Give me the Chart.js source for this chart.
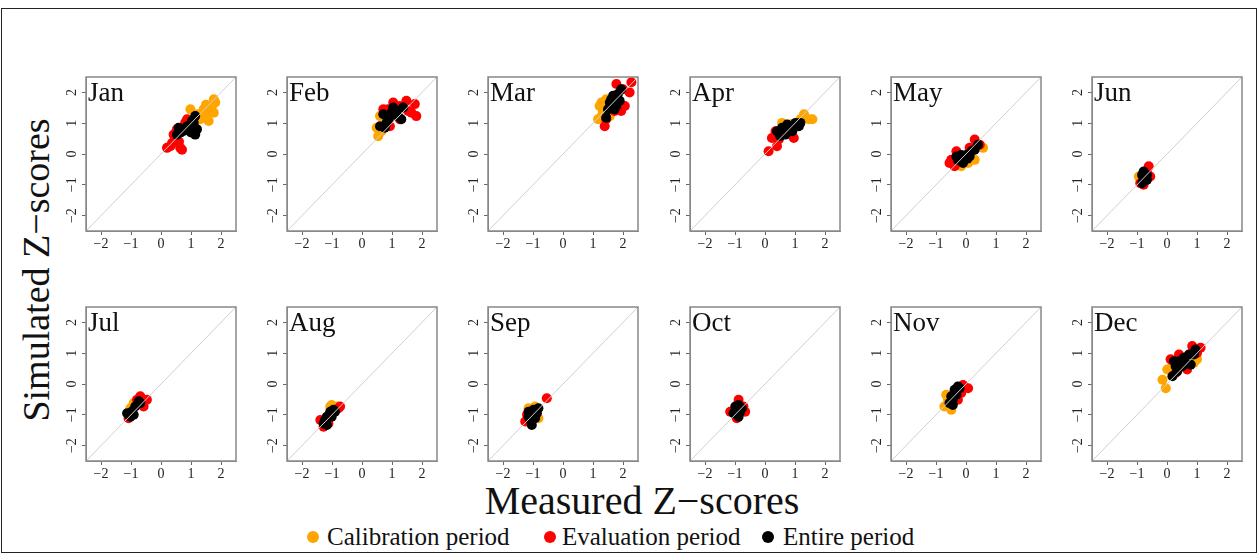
<!DOCTYPE html>
<html>
<head>
<meta charset="utf-8">
<script src="https://cdn.jsdelivr.net/npm/chart.js@4.4.1/dist/chart.umd.min.js"></script>
<style>
  body { margin: 0; background: #fff; width: 1259px; height: 555px; overflow: hidden; position: relative; font-family: "Liberation Serif", serif; }
  #frame { position: absolute; left: 1px; top: 8px; width: 1256px; height: 545px; border: 1.5px solid #222; box-sizing: border-box; }
  canvas { position: absolute; }
  .ytitle { position: absolute; left: 36px; top: 270px; transform: translate(-50%, -50%) rotate(-90deg); font-size: 38px; white-space: nowrap; color: #111; }
  .xtitle { position: absolute; left: 642px; top: 500px; transform: translate(-50%, -50%); font-size: 40px; white-space: nowrap; color: #111; }
  .leg { position: absolute; top: 537px; transform: translateY(-50%); font-size: 25px; white-space: nowrap; color: #111; }
  .dot { position: absolute; width: 12px; height: 12px; border-radius: 50%; top: 537px; transform: translate(-50%, -50%); }
</style>
</head>
<body>
<div id="frame"></div>
<div class="ytitle">Simulated Z−scores</div>
<div class="xtitle">Measured Z−scores</div>
<span class="dot" style="left:313px;background:#FFA500"></span><div class="leg" style="left:327px">Calibration period</div>
<span class="dot" style="left:550px;background:#FF0000"></span><div class="leg" style="left:562px">Evaluation period</div>
<span class="dot" style="left:768px;background:#000"></span><div class="leg" style="left:783px">Entire period</div>
<script>
const months = ['Jan', 'Feb', 'Mar', 'Apr', 'May', 'Jun', 'Jul', 'Aug', 'Sep', 'Oct', 'Nov', 'Dec'];
const tickValues = [-2, -1, 0, 1, 2];
const axisRange = [-2.5, 2.5];

// [measured, simulated] pairs per month
const calibration = [
  [[0.98,1.45],[1.7,1.56],[1.76,1.78],[1.53,1.23],[1.59,1.07],[1.31,1.13],[1.42,1.45],[1.76,1.34],[1.2,1.29],[1.81,1.67],[1.6,1.4],[1.5,1.6]],
  [[0.54,0.58],[0.49,0.85],[0.6,1.23],[0.82,1.29],[0.65,0.74]],
  [[1.17,1.13],[1.28,1.67],[1.33,1.4],[1.44,1.78],[1.5,1.51],[1.22,1.56],[1.56,1.23],[1.39,1.18],[1.3,1.25]],
  [[0.57,1.01],[1.3,1.29],[1.46,1.13],[1.58,1.13],[1.18,1.13],[0.85,0.96]],
  [[0.57,0.2],[-0.16,-0.4],[0.29,-0.19],[0.07,-0.29]],
  [[-0.94,-0.73],[-0.89,-0.84]],
  [[-1.02,-0.79],[-0.91,-0.62]],
  [[-1.06,-0.73],[-1.01,-0.68],[-0.84,-0.73]],
  [[-1.15,-0.79],[-0.93,-0.73],[-0.82,-1.11],[-1.2,-1.22]],
  [[-0.99,-0.84],[-0.9,-0.95]],
  [[-0.72,-0.73],[-0.49,-0.84],[-0.6,-0.51],[-0.66,-0.35]],
  [[-0.15,0.14],[-0.04,-0.14],[0.01,0.47],[0.18,0.58],[1.0,0.8],[0.9,0.69]]
];
const evaluation = [
  [[0.2,0.2],[0.37,0.36],[0.64,0.2],[0.7,0.14],[0.42,0.63],[0.53,0.8],[0.81,1.02],[0.48,0.52],[0.31,0.25],[0.87,1.13],[0.6,0.4]],
  [[0.71,1.45],[0.87,1.45],[1.26,1.56],[1.48,1.73],[1.76,1.62],[1.81,1.23],[1.54,1.4],[0.93,0.9],[1.26,1.13],[1.04,1.67],[1.65,1.34]],
  [[1.39,0.9],[1.44,1.13],[1.78,2.27],[2.22,2.0],[2.28,2.33],[2.06,1.56],[1.94,1.4],[1.72,1.4],[2.0,2.1]],
  [[0.12,0.09],[0.23,0.52],[0.4,0.25],[0.46,0.47],[0.96,0.52],[0.74,0.8],[0.35,0.74]],
  [[-0.55,-0.29],[-0.38,-0.4],[-0.32,0.09],[-0.16,-0.24],[0.29,0.47],[0.12,0.2],[0.46,0.3],[-0.49,-0.19]],
  [[-0.61,-0.4],[-0.56,-0.73],[-0.78,-1.0],[-0.89,-0.95],[-0.67,-0.57]],
  [[-0.69,-0.4],[-0.47,-0.51],[-0.58,-0.73],[-1.08,-1.11],[-0.8,-0.51]],
  [[-1.39,-1.17],[-1.28,-1.39],[-0.78,-0.79],[-0.73,-0.73],[-1.12,-1.28]],
  [[-0.54,-0.46],[-1.2,-1.0],[-1.26,-1.22]],
  [[-0.88,-0.51],[-1.16,-0.9],[-0.66,-0.9],[-0.94,-1.11],[-0.72,-0.73]],
  [[-0.1,-0.03],[0.07,-0.14],[-0.16,-0.29],[-0.27,-0.51]],
  [[0.12,0.8],[0.4,0.96],[0.84,1.23],[1.12,1.18],[1.0,1.01],[0.29,0.36],[0.67,0.47]]
];
const entire = [
  [[0.59,0.85],[0.53,0.63],[0.87,0.9],[1.09,0.85],[1.14,0.63],[1.14,1.23],[1.03,1.07],[1.2,0.8],[0.92,0.8],[0.64,0.69],[1.09,1.01],[0.75,0.75],[1.0,0.7]],
  [[0.71,1.29],[0.82,1.01],[0.98,1.34],[1.04,1.51],[1.2,1.23],[1.31,1.13],[1.37,1.51],[0.76,0.85],[1.15,1.4],[0.6,0.9],[0.9,1.15],[1.1,1.3]],
  [[1.44,1.18],[1.56,1.67],[1.67,1.89],[1.78,1.56],[1.89,1.73],[1.94,2.1],[1.72,1.45],[1.61,1.78],[1.83,1.95],[1.5,1.45],[1.7,1.7]],
  [[0.4,0.74],[0.57,0.85],[0.68,0.63],[0.85,0.9],[1.02,1.01],[1.13,0.9],[0.51,0.58],[0.91,0.74],[0.74,0.96],[1.18,1.01],[0.6,0.7],[0.8,0.8]],
  [[-0.27,-0.19],[-0.16,-0.03],[0.01,-0.03],[0.12,-0.08],[0.29,0.14],[0.4,0.3],[-0.1,-0.29],[-0.32,-0.08],[0.18,0.09],[0.05,-0.15]],
  [[-0.83,-0.68],[-0.78,-0.84],[-0.72,-0.73],[-0.67,-0.68],[-0.83,-0.95],[-0.67,-0.84],[-0.78,-0.57]],
  [[-1.08,-1.0],[-0.97,-0.89],[-0.86,-0.73],[-0.74,-0.56],[-1.02,-1.06],[-0.69,-0.62],[-0.91,-1.0],[-1.13,-0.95]],
  [[-1.28,-1.28],[-1.17,-1.06],[-1.06,-0.9],[-0.95,-0.84],[-1.17,-1.33],[-1.01,-1.06],[-0.9,-0.9],[-1.23,-1.17]],
  [[-1.15,-0.9],[-1.09,-1.17],[-0.98,-0.84],[-0.87,-0.95],[-1.04,-1.33],[-0.93,-1.11],[-0.82,-0.79],[-1.15,-1.06]],
  [[-0.99,-0.73],[-0.88,-0.68],[-0.83,-0.9],[-1.05,-0.95],[-0.88,-1.06],[-0.77,-0.79],[-0.94,-0.84]],
  [[-0.44,-0.51],[-0.38,-0.19],[-0.27,-0.08],[-0.55,-0.62],[-0.32,-0.35],[-0.49,-0.4],[-0.21,-0.14],[-0.44,-0.68]],
  [[0.18,0.25],[0.29,0.58],[0.4,0.74],[0.56,0.85],[0.73,0.96],[0.9,0.96],[0.95,1.12],[0.23,0.74],[0.51,0.58],[0.79,0.63],[0.34,0.41],[0.6,0.7]]
];

const fmt = v => (v < 0 ? '\u2212' + Math.abs(v) : String(v));
const toXY = arr => arr.map(p => ({ x: p[0], y: p[1] }));

// panel box + month label + rotated y tick labels
const panelDecor = {
  id: 'panelDecor',
  afterDraw(chart, args, opts) {
    const { ctx, chartArea: a, scales } = chart;
    ctx.save();
    ctx.strokeStyle = '#888';
    ctx.lineWidth = 1.5;
    ctx.strokeRect(a.left, a.top, a.right - a.left, a.bottom - a.top);
    ctx.fillStyle = '#222';
    ctx.font = '14px "Liberation Serif"';
    ctx.textAlign = 'center';
    ctx.textBaseline = 'middle';
    tickValues.forEach(v => {
      const y = scales.y.getPixelForValue(v);
      ctx.save();
      ctx.translate(a.left - 14, y);
      ctx.rotate(-Math.PI / 2);
      ctx.fillText(fmt(v), 0, 0);
      ctx.restore();
    });
    ctx.fillStyle = '#111';
    ctx.font = '27px "Liberation Serif"';
    ctx.textAlign = 'left';
    ctx.textBaseline = 'top';
    ctx.fillText(opts.label, a.left + 2, a.top + 3);
    ctx.restore();
  }
};

const W = 188, H = 186;
months.forEach((m, i) => {
  const col = i % 6, row = Math.floor(i / 6);
  const boxLeft = 86 + col * 201.2;
  const boxTop = row ? 307 : 77;
  const canvas = document.createElement('canvas');
  canvas.width = W; canvas.height = H;
  canvas.style.left = (boxLeft - 32) + 'px';
  canvas.style.top = (boxTop - 6) + 'px';
  canvas.style.width = W + 'px'; canvas.style.height = H + 'px';
  document.body.appendChild(canvas);

  const axis = (pos) => ({
    type: 'linear',
    position: pos,
    min: axisRange[0], max: axisRange[1],
    afterBuildTicks: s => { s.ticks = tickValues.map(v => ({ value: v })); },
    afterFit: s => { if (pos === 'left') s.width = 32; else s.height = 26; },
    grid: { drawOnChartArea: false, drawTicks: true, tickLength: 4, color: '#666', lineWidth: 1 },
    border: { display: true, color: '#888', width: 1 },
    ticks: pos === 'left'
      ? { display: false }
      : { color: '#222', padding: 1, maxRotation: 0, font: { family: 'Liberation Serif', size: 14 }, callback: v => fmt(v) }
  });

  new Chart(canvas, {
    type: 'scatter',
    data: {
      datasets: [
        { type: 'line', data: [{ x: axisRange[0], y: axisRange[0] }, { x: axisRange[1], y: axisRange[1] }], borderColor: '#cfcfcf', borderWidth: 1, pointRadius: 0, showLine: true },
        { label: 'Entire period', data: toXY(entire[i]), backgroundColor: '#000', pointRadius: 5, borderWidth: 0 },
        { label: 'Evaluation period', data: toXY(evaluation[i]), backgroundColor: '#FF0000', pointRadius: 5, borderWidth: 0 },
        { label: 'Calibration period', data: toXY(calibration[i]), backgroundColor: '#FFA500', pointRadius: 5, borderWidth: 0 }
      ]
    },
    options: {
      responsive: false,
      animation: false,
      events: [],
      layout: { padding: { left: 0, top: 6, right: 6, bottom: 0 } },
      scales: { x: axis('bottom'), y: axis('left') },
      plugins: { legend: { display: false }, tooltip: { enabled: false }, panelDecor: { label: m } }
    },
    plugins: [panelDecor]
  });
});
</script>
</body>
</html>
